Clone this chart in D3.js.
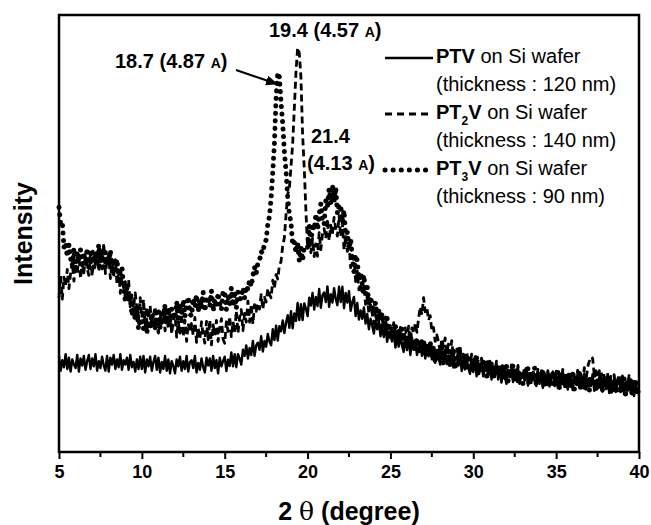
<!DOCTYPE html>
<html>
<head>
<meta charset="utf-8">
<script src="https://cdn.jsdelivr.net/npm/d3@7"></script>
<style>
  html, body { margin: 0; padding: 0; background: #fff; }
  svg { display: block; font-family: 'Liberation Sans', Arial, sans-serif; }
</style>
</head>
<body>
<svg id="chart"></svg>
<script>
// 2-theta sampled every 0.1 degree, 5 .. 40
const twoTheta = d3.range(0, 351).map((i) => 5 + i / 10);

// intensities (arb. counts), one row per degree
const ptv = [
  220,186,210,194,224,190,216,184,212,200,
  192,222,184,214,198,220,188,208,222,190,
  214,196,224,186,208,192,218,198,186,220,
  184,216,200,222,190,212,194,224,188,210,
  200,216,188,222,194,206,184,212,190,218,
  190,220,182,212,196,218,186,206,220,188,
  216,182,206,190,220,186,212,180,208,196,
  180,212,196,218,186,208,190,220,184,206,
  210,192,220,182,204,188,214,194,182,216,
  198,214,186,220,192,210,180,216,196,208,
  218,185,211,197,228,196,224,194,224,214,
  200,234,220,244,214,238,222,254,220,244,
  250,234,265,230,254,241,270,253,244,281,
  256,289,255,288,276,301,272,296,313,284,
  322,283,317,300,341,302,338,302,340,328,
  311,353,335,364,326,355,334,373,330,359,
  365,343,379,332,361,342,375,350,336,378,
  343,378,329,364,342,368,323,343,355,311,
  341,303,324,305,331,294,316,281,305,290,
  271,300,281,300,265,284,263,291,252,271,
  273,253,279,239,259,241,265,243,229,262,
  233,262,222,251,234,255,222,240,253,220,
  249,214,236,219,248,212,237,204,230,217,
  200,231,213,234,201,221,202,231,193,214,
  217,198,225,185,206,189,214,193,179,212,
  183,212,173,202,185,206,173,192,205,172,
  201,166,189,172,201,166,192,159,186,173,
  156,188,171,193,160,182,163,193,156,178,
  181,163,191,152,174,158,183,163,151,184,
  156,186,147,177,161,183,150,170,184,151,
  181,147,170,154,184,149,175,143,170,158,
  142,174,157,179,147,168,150,180,143,165,
  169,151,178,140,162,145,171,151,138,172,
  144,173,135,164,148,169,137,156,170,137,
  167,132,156,139,169,135,160,128,155,143,
  146
];

const pt2v = [
  353,403,350,400,380,418,374,409,434,391,
  431,407,451,397,432,410,450,421,404,456,
  402,451,427,461,413,447,419,478,408,439,
  452,397,428,399,440,384,417,363,399,375,
  390,358,394,332,359,330,364,329,307,353,
  307,349,289,331,305,335,285,313,332,283,
  272,319,294,326,277,309,281,325,270,301,
  315,263,298,272,316,264,302,253,294,274,
  294,267,308,251,284,259,298,267,249,299,
  257,302,245,291,267,301,253,284,305,258,
  249,298,276,310,264,298,274,323,272,308,
  326,278,317,297,345,297,338,293,337,322,
  340,327,360,327,354,343,374,360,353,393,
  375,406,396,427,436,472,490,544,589,603,
  653,705,786,869,925,913,857,727,649,552,
  469,491,456,489,447,476,448,502,463,499,
  511,489,533,484,519,498,537,511,494,540,
  493,525,462,493,459,478,422,438,446,390,
  414,371,386,360,381,338,356,317,337,317,
  294,322,302,320,285,303,282,309,269,288,
  289,270,296,257,277,260,285,264,251,284,
  256,288,252,284,271,295,274,306,332,314,
  353,321,330,302,312,277,285,253,268,252,
  229,259,241,261,227,247,227,255,217,237,
  239,219,244,204,224,206,229,207,193,224,
  194,223,183,212,194,215,182,200,213,179,
  208,173,196,179,208,174,199,166,193,180,
  163,194,178,199,166,188,169,198,162,183,
  186,168,195,157,179,162,188,167,155,189,
  160,190,151,181,165,186,154,174,187,155,
  185,151,175,159,189,155,181,149,177,165,
  149,181,165,187,155,178,161,193,162,194,
  208,205,215,176,186,169,186,167,156,180,
  153,182,144,173,156,177,144,164,177,144,
  174,139,163,146,175,140,165,133,160,147,
  151
];

const pt3v = [
  560,521,525,468,479,447,474,443,426,466,
  419,458,437,463,422,449,428,466,422,451,
  464,423,455,436,475,433,465,423,457,440,
  429,462,410,442,418,441,394,412,422,376,
  346,376,346,362,312,330,302,333,282,304,
  303,282,318,272,301,282,317,293,281,325,
  327,286,318,299,337,296,330,291,328,314,
  305,344,298,337,318,348,310,336,355,316,
  311,352,332,360,321,350,328,366,322,350,
  355,333,369,322,350,330,364,338,325,367,
  368,326,357,338,376,334,368,329,366,352,
  350,376,353,380,372,394,379,403,423,408,
  432,437,459,455,478,485,522,539,581,640,
  706,810,868,858,799,751,687,642,582,545,
  524,473,480,457,479,437,467,438,470,469,
  468,518,472,522,508,545,509,543,568,526,
  521,575,562,602,568,611,574,605,546,566,
  563,526,553,488,504,465,487,444,412,451,
  437,394,409,384,405,361,378,337,356,335,
  318,342,299,323,302,318,281,297,306,270,
  259,289,270,290,256,276,255,283,245,264,
  266,246,273,233,254,236,260,239,225,258,
  256,220,242,225,253,217,241,207,234,220,
  210,239,200,229,212,232,199,218,231,198,
  191,222,204,225,191,212,193,221,184,204,
  207,188,216,177,198,181,206,186,173,206,
  177,206,167,196,180,201,168,187,200,168,
  197,162,186,169,199,164,190,157,185,172,
  156,187,171,192,160,181,163,192,156,177,
  181,162,190,151,173,156,182,161,149,182,
  153,183,145,176,158,180,147,167,181,148,
  178,144,167,151,181,146,172,140,167,155,
  139,171,154,176,144,165,147,177,140,162,
  166,147,175,136,158,142,167,147,134,168,
  140,169,131,161,144,166,130,154,167,131,
  149
];

const xTicks = [5, 10, 15, 20, 25, 30, 35, 40];

const width = 651;
const height = 525;
const margin = { top: 15, right: 12, bottom: 73, left: 59 };
const FONT = "'Liberation Sans', Arial, sans-serif";

const svg = d3.select('#chart').attr('width', width).attr('height', height);

const x = d3.scaleLinear().domain([5, 40]).range([margin.left, width - margin.right]);
const y = d3.scaleLinear().domain([0, 1000]).range([height - margin.bottom, margin.top]);

// series styles
const series = [
  { values: ptv, width: 2.4, dash: null, cap: 'butt' },
  { values: pt2v, width: 2.8, dash: '7,4', cap: 'butt' },
  { values: pt3v, width: 5, dash: '0.1,7.4', cap: 'round' },
];

const line = d3
  .line()
  .x((d) => x(d[0]))
  .y((d) => y(d[1]));

svg
  .append('g')
  .attr('class', 'series')
  .selectAll('path')
  .data(series)
  .enter()
  .append('path')
  .attr('d', (s) => line(twoTheta.map((t, i) => [t, s.values[i]])))
  .attr('fill', 'none')
  .attr('stroke', '#000')
  .attr('stroke-width', (s) => s.width)
  .attr('stroke-dasharray', (s) => s.dash)
  .attr('stroke-linecap', (s) => s.cap)
  .attr('stroke-linejoin', 'round');

// frame
svg
  .append('rect')
  .attr('x', x(5))
  .attr('y', y(1000))
  .attr('width', x(40) - x(5))
  .attr('height', y(0) - y(1000))
  .attr('fill', 'none')
  .attr('stroke', '#000')
  .attr('stroke-width', 2.5);

// x axis: major ticks with labels, minor ticks in between
const xAxis = svg.append('g').attr('transform', `translate(0,${y(0)})`);
xAxis
  .call(d3.axisBottom(x).tickValues(xTicks).tickSize(7).tickPadding(6).tickFormat(d3.format('d')))
  .call((g) => g.select('.domain').remove())
  .call((g) => g.selectAll('.tick line').attr('stroke-width', 2))
  .call((g) =>
    g
      .selectAll('.tick text')
      .attr('font-family', FONT)
      .attr('font-size', 18)
      .attr('font-weight', 'bold')
      .attr('fill', '#000')
  );
xAxis
  .selectAll('line.minor')
  .data(d3.range(7.5, 40, 5))
  .enter()
  .append('line')
  .attr('class', 'minor')
  .attr('x1', (d) => x(d))
  .attr('x2', (d) => x(d))
  .attr('y1', 0)
  .attr('y2', 5)
  .attr('stroke', '#000')
  .attr('stroke-width', 2);

// axis titles
const xTitle = svg
  .append('text')
  .attr('x', (x(5) + x(40)) / 2)
  .attr('y', 520)
  .attr('text-anchor', 'middle')
  .attr('font-size', 25)
  .attr('font-weight', 'bold');
xTitle.append('tspan').text('2 ');
xTitle.append('tspan').attr('font-family', "'DejaVu Serif', serif").attr('font-weight', 'normal').text('θ');
xTitle.append('tspan').text(' (degree)');

svg
  .append('text')
  .attr('transform', `translate(32,${(y(0) + y(1000)) / 2}) rotate(-90)`)
  .attr('text-anchor', 'middle')
  .attr('font-size', 25)
  .attr('font-weight', 'bold')
  .text('Intensity');

// peak annotations
function peakLabel(px, py, parts) {
  const t = svg.append('text').attr('x', px).attr('y', py).attr('font-size', 20).attr('font-weight', 'bold');
  parts.forEach((p) => {
    t.append('tspan').attr('font-size', p.small ? 14 : 20).text(p.s);
  });
  return t;
}
peakLabel(269, 37, [{ s: '19.4 (4.57 ' }, { s: 'A', small: true }, { s: ')' }]);
peakLabel(115, 68, [{ s: '18.7 (4.87 ' }, { s: 'A', small: true }, { s: ')' }]);
peakLabel(311, 143, [{ s: '21.4' }]);
peakLabel(307, 170, [{ s: '(4.13 ' }, { s: 'A', small: true }, { s: ')' }]);

svg
  .append('defs')
  .append('marker')
  .attr('id', 'arrow')
  .attr('orient', 'auto')
  .attr('markerUnits', 'userSpaceOnUse')
  .attr('markerWidth', 12)
  .attr('markerHeight', 10)
  .attr('refX', 11)
  .attr('refY', 5)
  .append('path')
  .attr('d', 'M0,0 L12,5 L0,10 Z');

svg
  .append('line')
  .attr('x1', 236)
  .attr('y1', 70)
  .attr('x2', 277)
  .attr('y2', 84)
  .attr('stroke', '#000')
  .attr('stroke-width', 2)
  .attr('marker-end', 'url(#arrow)');

// legend
const legendItems = [
  { name: ['PTV', null], thick: '120', dash: null, width: 2.6, cap: 'butt' },
  { name: ['PT', '2'], thick: '140', dash: '7,5', width: 2.8, cap: 'butt' },
  { name: ['PT', '3'], thick: '90', dash: '0.1,8', width: 5, cap: 'round' },
];

const legend = svg.append('g').attr('class', 'legend');
legendItems.forEach((d, i) => {
  const base = 63 + i * 56;
  legend
    .append('line')
    .attr('x1', 385)
    .attr('x2', 433)
    .attr('y1', base - 5)
    .attr('y2', base - 5)
    .attr('stroke', '#000')
    .attr('stroke-width', d.width)
    .attr('stroke-dasharray', d.dash)
    .attr('stroke-linecap', d.cap);

  const t = legend.append('text').attr('x', 436).attr('y', base).attr('font-size', 20);
  t.append('tspan').attr('font-weight', 'bold').text(d.name[0]);
  if (d.name[1]) {
    t.append('tspan').attr('font-weight', 'bold').attr('font-size', 12).attr('dy', 6).text(d.name[1]);
    t.append('tspan').attr('font-weight', 'bold').attr('dy', -6).text('V');
  }
  t.append('tspan').text(' on Si wafer');

  legend
    .append('text')
    .attr('x', 436)
    .attr('y', base + 28)
    .attr('font-size', 20)
    .text(`(thickness : ${d.thick} nm)`);
});
</script>
</body>
</html>
